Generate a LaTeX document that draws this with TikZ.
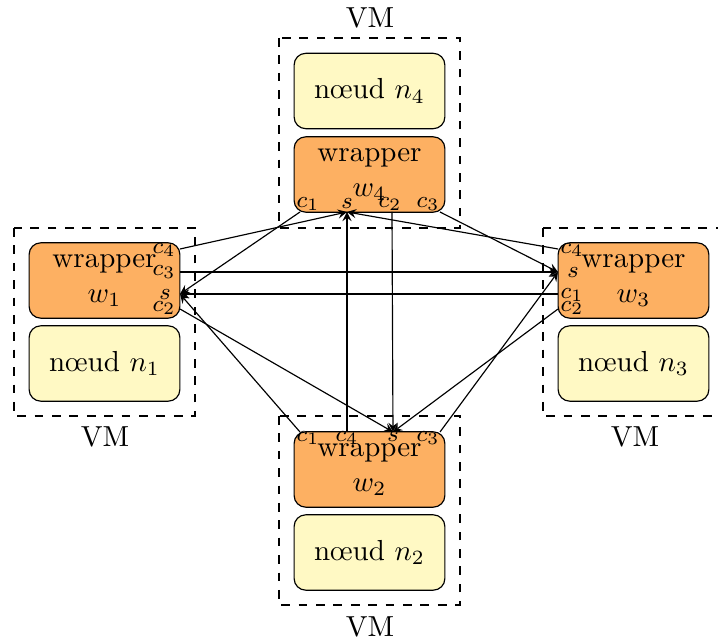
\documentclass[tikz,border=0pt]{standalone}
\usepackage{tikz}

\definecolor{wrapfill}{RGB}{253,176,98}
\definecolor{noeudfill}{RGB}{255,249,196}
\tikzset{
  wrap/.style={draw, rounded corners, fill=wrapfill, minimum width=52pt, minimum height=26pt, inner sep=0pt, align=center},
  noeud/.style={draw, rounded corners, fill=noeudfill, minimum width=52pt, minimum height=26pt, inner sep=0pt},
  port/.style={inner sep=0pt, font=\footnotesize},
}

\begin{document}
\begin{tikzpicture}[x=0.345pt,y=0.345pt,yscale=-1,xscale=1]
\useasboundingbox (0,0) rectangle (718,639);

%Shape: VM boxes
\draw [dashed] (279,38) rectangle (460,228) ;
\draw [dashed] (14,228) rectangle (195,416) ;
\draw [dashed] (543,228) rectangle (724,416) ;
\draw [dashed] (279,416) rectangle (460,605) ;

% Text Node
\draw (370,18) node (vm4) {VM};
\draw (105,437) node (vm1) {VM};
\draw (635,437) node (vm3) {VM};
\draw (370,627) node (vm2) {VM};

%Shape: nodes and wrappers
\draw (369.5,91) node [noeud] (n4) {n\oe ud $n_4$};
\draw (369.5,174.5) node [wrap] (w4) {wrapper\\$w_4$};
\draw (104.5,280.5) node [wrap] (w1) {wrapper\\$w_1$};
\draw (104.5,363.5) node [noeud] (n1) {n\oe ud $n_1$};
\draw (633.5,280.5) node [wrap] (w3) {wrapper\\$w_3$};
\draw (633.5,363.5) node [noeud] (n3) {n\oe ud $n_3$};
\draw (369.5,469.5) node [wrap] (w2) {wrapper\\$w_2$};
\draw (369.5,552.5) node [noeud] (n2) {n\oe ud $n_2$};

% Ports
\coordinate (w4-c1) at (300,212);
\coordinate (w4-s) at (347,212);
\coordinate (w4-c2) at (392,212);
\coordinate (w4-c3) at (440,212);
\coordinate (w1-c4) at (180,249);
\coordinate (w1-c3) at (180,272);
\coordinate (w1-s) at (180,294);
\coordinate (w1-c2) at (180,309);
\coordinate (w3-c4) at (558,249);
\coordinate (w3-s) at (558,272);
\coordinate (w3-c1) at (558,294);
\coordinate (w3-c2) at (558,309);
\coordinate (w2-c1) at (300,432);
\coordinate (w2-c4) at (347,432);
\coordinate (w2-s) at (393,432);
\coordinate (w2-c3) at (440,432);

% Port labels
\draw (308,204) node [port] (l4c1) {$c_1$};
\draw (347,204) node [port] (l4s) {$s$};
\draw (390,204) node [port] (l4c2) {$c_2$};
\draw (428,204) node [port] (l4c3) {$c_3$};
\draw (164,250) node [port] (l1c4) {$c_4$};
\draw (164,272) node [port] (l1c3) {$c_3$};
\draw (165,295) node [port] (l1s) {$s$};
\draw (164,308) node [port] (l1c2) {$c_2$};
\draw (572,250) node [port] (l3c4) {$c_4$};
\draw (573,273) node [port] (l3s) {$s$};
\draw (572,295) node [port] (l3c1) {$c_1$};
\draw (572,308) node [port] (l3c2) {$c_2$};
\draw (308,438) node [port] (l2c1) {$c_1$};
\draw (347,438) node [port] (l2c4) {$c_4$};
\draw (393,437) node [port] (l2s) {$s$};
\draw (428,438) node [port] (l2c3) {$c_3$};

%Straight Lines: client to server
\draw [-stealth] (w4-c1) -- (w1-s) ;
\draw [-stealth] (w4-c2) -- (w2-s) ;
\draw [-stealth] (w4-c3) -- (w3-s) ;
\draw [-stealth] (w1-c4) -- (w4-s) ;
\draw [-stealth] (w1-c3) -- (w3-s) ;
\draw [-stealth] (w1-c2) -- (w2-s) ;
\draw [-stealth] (w3-c4) -- (w4-s) ;
\draw [-stealth] (w3-c1) -- (w1-s) ;
\draw [-stealth] (w3-c2) -- (w2-s) ;
\draw [-stealth] (w2-c1) -- (w1-s) ;
\draw [-stealth] (w2-c4) -- (w4-s) ;
\draw [-stealth] (w2-c3) -- (w3-s) ;

\end{tikzpicture}
\end{document}
